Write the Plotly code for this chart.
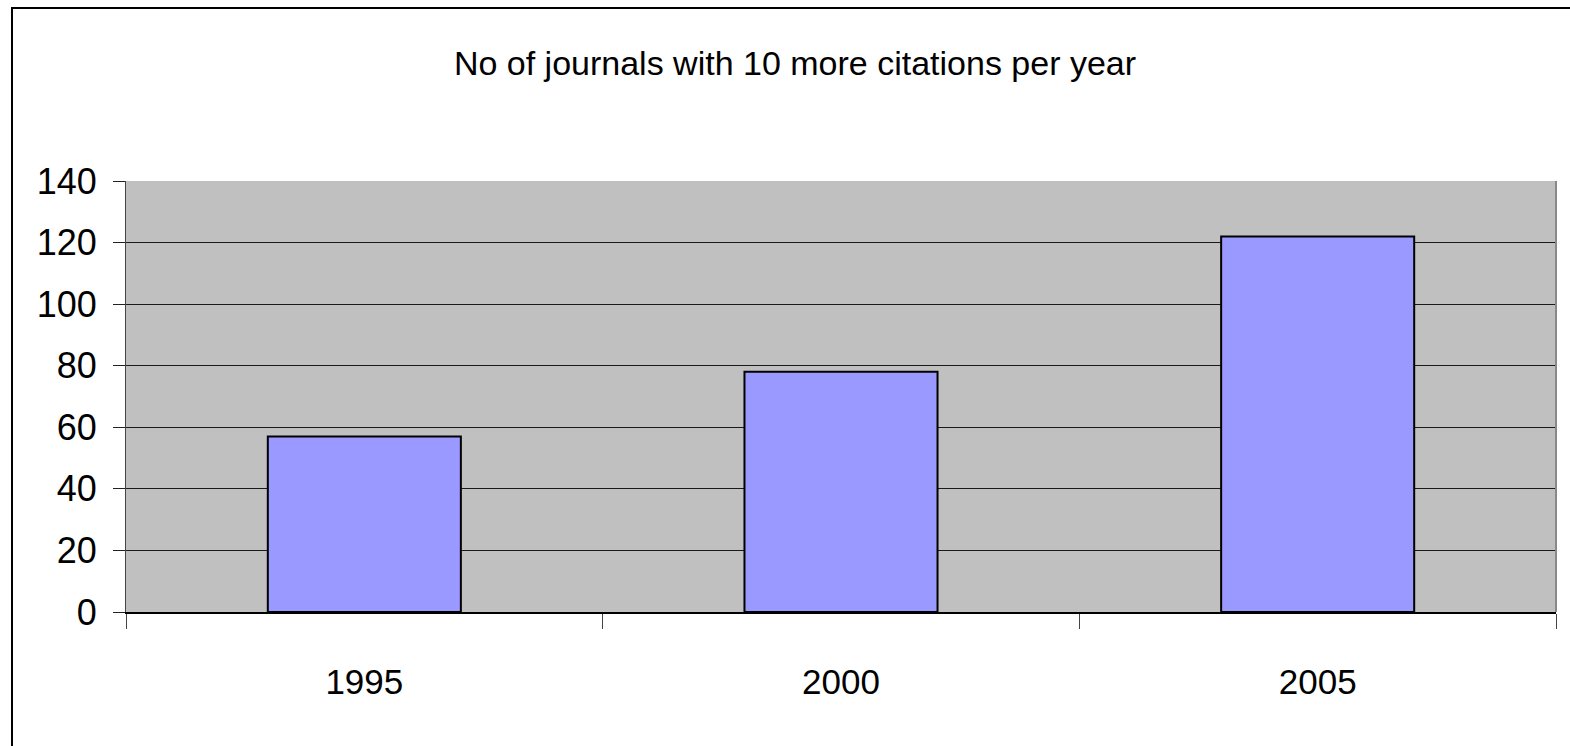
import plotly.graph_objects as go

categories = ["1995", "2000", "2005"]
values = [57, 78, 122]
title_text = "No of journals with 10 more citations per year"
y_ticks = [0, 20, 40, 60, 80, 100, 120, 140]

FONT = "Liberation Sans, Arial, sans-serif"

W, H = 1570, 746
L, R, T, B = 126, 14, 181, 134
pw, ph = W - L - R, H - T - B

def px_x(px):
    return (px - L) / pw

def px_y(py):
    return (H - B - py) / ph

fig = go.Figure()
fig.add_trace(go.Bar(
    x=categories, y=values,
    marker=dict(color="#9999FF", line=dict(color="#000000", width=2)),
    width=0.405,
))

fig.update_layout(
    width=W, height=H,
    margin=dict(l=L, r=R, t=T, b=B, pad=0),
    paper_bgcolor="white",
    plot_bgcolor="#C0C0C0",
    showlegend=False,
    font=dict(family=FONT, color="black"),
    title=dict(text=title_text, x=795 / W, xanchor="center",
               y=1 - 63 / H, yanchor="middle",
               font=dict(family=FONT, size=34, color="black")),
)

fig.update_xaxes(
    type="category",
    tickson="boundaries",
    ticks="outside", ticklen=15, tickcolor="#444", tickwidth=1,
    showline=True, linecolor="#000", linewidth=2,
    showgrid=False,
    tickfont=dict(family=FONT, size=35, color="black"),
    ticklabelstandoff=38,
    range=[-0.5, 2.5],
)
fig.update_yaxes(
    range=[0, 140], tickvals=y_ticks,
    ticks="outside", ticklen=12, tickcolor="#222", tickwidth=1,
    showline=True, linecolor="#444", linewidth=1,
    showgrid=True, gridcolor="#1a1a1a", gridwidth=1,
    zeroline=False,
    tickfont=dict(family=FONT, size=36, color="black"),
    ticklabelstandoff=9,
)

# outer chart frame (partially cut off at right and bottom)
fig.add_shape(type="rect", xref="paper", yref="paper",
              x0=px_x(12), x1=px_x(1600), y0=px_y(790), y1=px_y(8),
              line=dict(color="#000", width=2), fillcolor="rgba(0,0,0,0)", layer="below")
# right edge of plot area
fig.add_shape(type="line", xref="paper", yref="paper",
              x0=1, x1=1, y0=0, y1=1, line=dict(color="#888", width=2))

fig.write_html("out.html", post_script="document.body.style.margin='0';",
               config={"displayModeBar": False})
